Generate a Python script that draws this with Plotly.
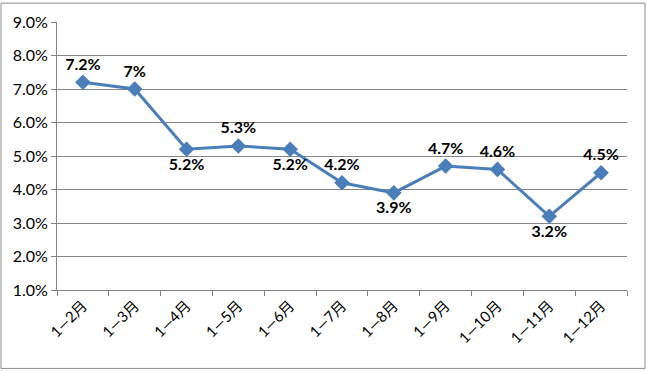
import plotly.graph_objects as go

categories = ["1—2月", "1—3月", "1—4月", "1—5月", "1—6月", "1—7月", "1—8月", "1—9月", "1—10月", "1—11月", "1—12月"]
values = [7.2, 7.0, 5.2, 5.3, 5.2, 4.2, 3.9, 4.7, 4.6, 3.2, 4.5]
labels = ["7.2%", "7%", "5.2%", "5.3%", "5.2%", "4.2%", "3.9%", "4.7%", "4.6%", "3.2%", "4.5%"]
label_pos = ["top center", "top center", "bottom center", "top center", "bottom center", "top center",
             "bottom center", "top center", "top center", "bottom center", "top center"]
y_ticks = [1, 2, 3, 4, 5, 6, 7, 8, 9]
y_tick_text = ["1.0%", "2.0%", "3.0%", "4.0%", "5.0%", "6.0%", "7.0%", "8.0%", "9.0%"]

FONT = "Lato, Noto Sans CJK SC, sans-serif"

fig = go.Figure()
fig.add_trace(go.Scatter(
    x=categories, y=values, mode="lines+markers+text",
    line=dict(color="#4A7EBB", width=3),
    marker=dict(symbol="diamond", size=12, color="#4A7EBB"),
    text=labels, textposition=label_pos,
    textfont=dict(family=FONT, size=16, color="black", weight="bold"),
    cliponaxis=False,
))

fig.update_layout(
    width=647, height=371,
    margin=dict(l=57, r=20, t=20, b=81),
    paper_bgcolor="white", plot_bgcolor="white",
    showlegend=False,
    font=dict(family=FONT, color="black"),
    shapes=[dict(type="rect", xref="paper", yref="paper",
                 x0=-56/570, x1=1+18/570, y0=-79/270, y1=1+19/270,
                 line=dict(color="#8C8C8C", width=1))],
)
fig.update_xaxes(
    type="category", range=[-0.5, 10.5],
    showline=True, linecolor="#868686", linewidth=1,
    ticks="outside", ticklen=5, tickcolor="#868686",
    tickson="boundaries",
    tickangle=-45, tickfont=dict(size=15, family=FONT),
    showgrid=False,
)
fig.update_yaxes(
    range=[1, 9], tickvals=y_ticks, ticktext=y_tick_text,
    showline=True, linecolor="#868686", linewidth=1,
    ticks="outside", ticklen=5, tickcolor="#868686",
    showgrid=True, gridcolor="#868686", gridwidth=1,
    tickfont=dict(size=16, family=FONT),
    zeroline=False,
)

fig.write_html("out.html", config={"displayModeBar": False})
with open("out.html", encoding="utf-8") as f:
    html = f.read()
html = html.replace("<head>", "<head><style>html,body{margin:0;padding:0;overflow:hidden}</style>", 1)
with open("out.html", "w", encoding="utf-8") as f:
    f.write(html)
